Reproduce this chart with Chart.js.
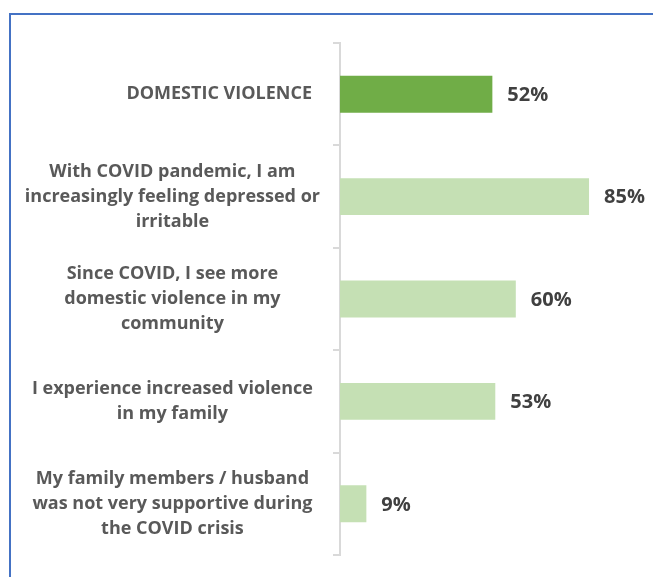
<!DOCTYPE html>
<html>
<head>
<meta charset="utf-8">
<script src="https://cdn.jsdelivr.net/npm/chart.js@4/dist/chart.umd.min.js"></script>
<style>
    html, body { margin: 0; padding: 0; background: #ffffff; }
    #wrap { position: relative; width: 653px; height: 577px; overflow: hidden; }
    #frame {
        position: absolute; left: 9px; top: 13px; width: 700px; height: 620px;
        border-left: 2px solid #4472c4; border-top: 2px solid #4472c4;
        box-sizing: border-box;
    }
    #chartBox { position: absolute; left: 0; top: 0; width: 653px; height: 577px; }
</style>
</head>
<body>
<div id="wrap">
    <div id="frame"></div>
    <div id="chartBox"><canvas id="violenceChart" width="653" height="577"></canvas></div>
</div>
<script>
const categories = [
    ['DOMESTIC VIOLENCE'],
    ['With COVID pandemic, I am', 'increasingly feeling depressed or', 'irritable'],
    ['Since COVID, I see more', 'domestic violence in my', 'community'],
    ['I experience increased violence', 'in my family'],
    ['My family members / husband', 'was not very supportive during', 'the COVID crisis']
];
const percentValues = [52, 85, 60, 53, 9];
const barColors = ['#70ad47', '#c5e0b4', '#c5e0b4', '#c5e0b4', '#c5e0b4'];

const FONT = '"Open Sans", Lato, sans-serif';

// value labels to the right of each bar
const valueLabels = {
    id: 'valueLabels',
    afterDatasetsDraw(chart) {
        const ctx = chart.ctx;
        const meta = chart.getDatasetMeta(0);
        ctx.save();
        ctx.font = `bold 20px ${FONT}`;
        ctx.fillStyle = '#404040';
        ctx.textAlign = 'left';
        ctx.textBaseline = 'middle';
        meta.data.forEach((bar, i) => {
            ctx.fillText(`${percentValues[i]}%`, bar.x + 15, bar.y + 1);
        });
        ctx.restore();
    }
};

new Chart(document.getElementById('violenceChart'), {
    type: 'bar',
    data: {
        labels: categories,
        datasets: [{
            data: percentValues,
            backgroundColor: barColors,
            borderWidth: 0,
            barPercentage: 0.36,
            categoryPercentage: 1
        }]
    },
    plugins: [valueLabels],
    options: {
        indexAxis: 'y',
        responsive: false,
        animation: false,
        layout: { padding: { left: 0, right: 20, top: 43, bottom: 22 } },
        plugins: {
            legend: { display: false },
            tooltip: { enabled: false }
        },
        scales: {
            x: {
                display: false,
                min: 0,
                max: 100
            },
            y: {
                afterFit(scale) {
                    scale.width = 340;
                    scale.paddingTop = 0;
                    scale.paddingBottom = 0;
                },
                border: { display: true, color: '#d9d9d9', width: 2 },
                grid: {
                    offset: true,
                    drawOnChartArea: false,
                    drawTicks: true,
                    tickLength: 7,
                    color: '#d9d9d9',
                    lineWidth: 2
                },
                ticks: {
                    crossAlign: 'center',
                    padding: 13,
                    color: '#595959',
                    font: { family: FONT, size: 18, weight: 'bold', lineHeight: 1.39 },
                    // the headline row sits towards the axis, the others are centred
                    callback(value, index) {
                        const label = this.getLabelForValue(value);
                        return index === 0 ? ' '.repeat(20) + label : label;
                    }
                }
            }
        }
    }
});
</script>
</body>
</html>
